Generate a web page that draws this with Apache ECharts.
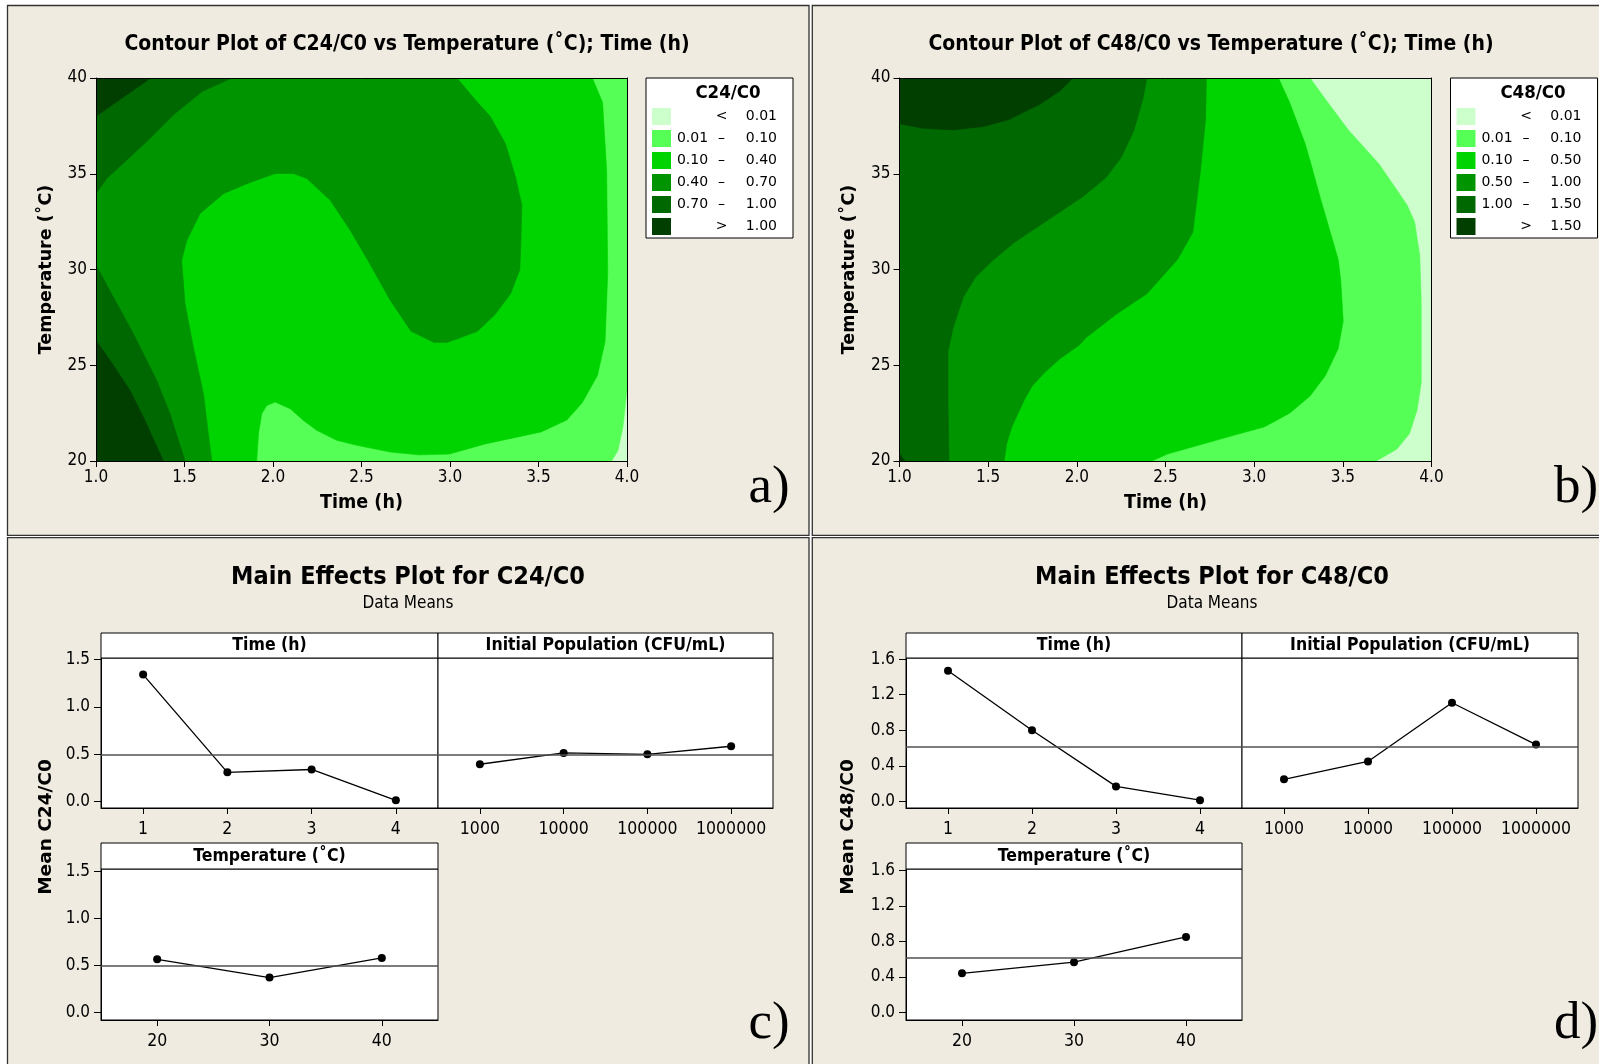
<!DOCTYPE html>
<html>
<head>
<meta charset="utf-8">
<title>Contour and main effects plots of C24/C0 and C48/C0</title>
<script src="https://cdn.jsdelivr.net/npm/echarts@6/dist/echarts.min.js"></script>
<style>
  html, body { margin: 0; padding: 0; background: #ffffff; }
  #chart { width: 1599px; height: 1064px; }
</style>
</head>
<body>
<div id="chart"></div>
<script>
// ---------------- data ----------------
// contour axes
const contourTimeTicks = [1.0, 1.5, 2.0, 2.5, 3.0, 3.5, 4.0];
const contourTempTicks = [20, 25, 30, 35, 40];

// contour legend classes (lightest to darkest)
const c24Classes = ['< 0.01', '0.01 – 0.10', '0.10 – 0.40', '0.40 – 0.70', '0.70 – 1.00', '> 1.00'];
const c48Classes = ['< 0.01', '0.01 – 0.10', '0.10 – 0.50', '0.50 – 1.00', '1.00 – 1.50', '> 1.50'];
const classColors = ['#ccffcc', '#55ff55', '#00d400', '#009400', '#006800', '#003f00'];

// C24/C0 regions, each one "value at or above the class floor", as [time, temperature] outlines
const c24Below001 = [[[1, 20], [4, 20], [4, 40], [1, 40]]];
const c24From001 = [[[1, 20], [3.913, 20], [3.948, 20.53], [3.977, 21.78], [4, 23.74], [4, 40], [1, 40]]];
const c24From010 = [[[1, 40], [3.804, 40], [3.862, 38.72], [3.885, 35.15], [3.891, 29.80], [3.876, 26.24],
  [3.833, 24.46], [3.746, 23.03], [3.660, 22.14], [3.515, 21.52], [3.198, 20.89], [2.996, 20.36],
  [2.823, 20.32], [2.662, 20.47], [2.474, 20.82], [2.360, 21.08], [2.247, 21.60], [2.172, 22.12],
  [2.097, 22.73], [2.012, 23.08], [1.965, 22.90], [1.936, 22.47], [1.918, 21.42], [1.908, 20], [1, 20]]];
const c24From040 = [[[1, 20], [1.654, 20], [1.607, 23.51], [1.550, 25.95], [1.503, 28.22], [1.484, 30.48],
  [1.513, 31.52], [1.588, 32.92], [1.720, 33.96], [1.852, 34.48], [2.012, 35.01], [2.116, 35.01],
  [2.191, 34.75], [2.323, 33.62], [2.436, 32.05], [2.530, 30.57], [2.662, 28.40], [2.780, 26.77],
  [2.910, 26.19], [2.982, 26.19], [3.054, 26.42], [3.155, 26.77], [3.256, 27.66], [3.342, 28.73],
  [3.394, 29.98], [3.400, 31.23], [3.406, 33.37], [3.371, 34.80], [3.313, 36.58], [3.227, 38.00],
  [3.140, 38.89], [3.039, 40], [1, 40]]];
const c24From070 = [
  [[1, 40], [1, 33.96], [1.060, 34.75], [1.173, 35.71], [1.30, 36.80], [1.44, 38.10], [1.60, 39.30], [1.767, 40]],
  [[1, 20], [1, 30.22], [1.098, 28.56], [1.211, 26.65], [1.343, 24.21], [1.418, 22.47], [1.503, 20]]
];
const c24From100 = [
  [[1, 40], [1, 38.0], [1.31, 40]],
  [[1, 20], [1, 26.30], [1.079, 25.26], [1.192, 23.69], [1.268, 22.29], [1.381, 20]]
];

// C48/C0 regions
const c48Below001 = [[[1, 20], [4, 20], [4, 40], [1, 40]]];
const c48From001 = [[[1, 40], [3.315, 40], [3.402, 38.89], [3.531, 37.29], [3.704, 35.51], [3.790, 34.35],
  [3.862, 33.37], [3.905, 32.48], [3.934, 30.70], [3.942, 28.38], [3.942, 26.24], [3.942, 24.10],
  [3.919, 22.67], [3.876, 21.43], [3.804, 20.62], [3.689, 20], [1, 20]]];
const c48From010 = [[[1, 40], [3.137, 40], [3.200, 38.72], [3.287, 36.58], [3.315, 35.69], [3.373, 33.73],
  [3.474, 30.52], [3.488, 29.45], [3.502, 27.31], [3.474, 25.88], [3.402, 24.46], [3.315, 23.39],
  [3.200, 22.50], [3.057, 21.78], [2.884, 21.34], [2.711, 20.89], [2.510, 20.36], [2.424, 20], [1, 20]]];
const c48From050 = [[[1, 40], [2.731, 40], [2.726, 37.83], [2.697, 35.15], [2.654, 31.94], [2.568, 30.52],
  [2.395, 28.73], [2.222, 27.66], [2.050, 26.42], [2.015, 26.06], [1.906, 25.35], [1.820, 24.63],
  [1.748, 23.92], [1.705, 23.21], [1.633, 21.78], [1.604, 20.89], [1.590, 20], [1, 20]]];
const c48From100 = [[[1, 40], [2.395, 40], [2.372, 38.89], [2.323, 37.29], [2.251, 35.86], [2.165, 34.80],
  [2.035, 33.81], [1.877, 32.83], [1.733, 31.94], [1.647, 31.41], [1.532, 30.52], [1.431, 29.63],
  [1.360, 28.56], [1.302, 26.95], [1.273, 25.70], [1.273, 23.57], [1.279, 20], [1, 20]]];
const c48From150 = [
  [[1, 40], [1, 37.61], [1.129, 37.38], [1.302, 37.29], [1.475, 37.47], [1.618, 37.83], [1.791, 38.63],
   [1.906, 39.34], [1.978, 40]],
  [[1, 20], [1, 20.4], [1.03, 20]]
];

// main effects: factor levels
const timeLevels = ['1', '2', '3', '4'];
const populationLevels = ['1000', '10000', '100000', '1000000'];
const temperatureLevels = ['20', '30', '40'];

// main effects: data means
const c24TimeMeans = [1.34, 0.31, 0.34, 0.015];
const c24PopulationMeans = [0.395, 0.515, 0.50, 0.585];
const c24TemperatureMeans = [0.565, 0.37, 0.58];
const c24GrandMean = 0.50;

const c48TimeMeans = [1.47, 0.80, 0.17, 0.015];
const c48PopulationMeans = [0.25, 0.45, 1.11, 0.64];
const c48TemperatureMeans = [0.44, 0.565, 0.85];
const c48GrandMean = 0.61;

// main effects: y tick labels
const c24MeanTicks = [0.0, 0.5, 1.0, 1.5];
const c48MeanTicks = [0.0, 0.4, 0.8, 1.2, 1.6];

// ---------------- styling ----------------
const FONT_COND = "'DejaVu Sans Condensed', 'DejaVu Sans', sans-serif";
const FONT_WIDE = "'DejaVu Sans', 'Verdana', sans-serif";
const FONT_SERIF = "'Liberation Serif', 'DejaVu Serif', serif";
const PANEL_FILL = '#efebe1';
const PANEL_EDGE = '#333333';

const option = {
  animation: false,
  backgroundColor: '#ffffff',
  grid: [], xAxis: [], yAxis: [], series: [], legend: [], graphic: []
};

function addText(x, y, text, opts) {
  option.graphic.push(Object.assign({
    type: 'text', x: x, y: y, z: 100, silent: true,
    style: Object.assign({
      text: text, fill: '#000',
      align: 'center', verticalAlign: 'middle',
      textAlign: 'center', textVerticalAlign: 'middle'
    }, opts.style)
  }, opts.el || {}));
}

// panel backgrounds
[[7.5, 5.5, 801.5, 529.8], [812.3, 5.5, 800, 529.8], [7.5, 537.7, 801.5, 540], [812.3, 537.7, 800, 540]].forEach(r => {
  option.graphic.push({
    type: 'rect', z: -100, silent: true,
    shape: { x: r[0], y: r[1], width: r[2], height: r[3] },
    style: { fill: PANEL_FILL, stroke: PANEL_EDGE, lineWidth: 1.3 }
  });
});

// ---------------- contour panels ----------------
function addContour(cfg) {
  const gi = option.grid.length;
  option.grid.push({ left: cfg.left, top: cfg.top, width: cfg.width, height: cfg.height });
  const tMin = contourTimeTicks[0], tMax = contourTimeTicks[contourTimeTicks.length - 1];
  const cMin = contourTempTicks[0], cMax = contourTempTicks[contourTempTicks.length - 1];
  const xi = option.xAxis.length;
  option.xAxis.push({
    gridIndex: gi, type: 'value', min: tMin, max: tMax, interval: contourTimeTicks[1] - contourTimeTicks[0],
    position: 'bottom', z: 10,
    name: 'Time (h)', nameLocation: 'middle', nameGap: 32,
    nameTextStyle: { fontFamily: FONT_COND, fontWeight: 'bold', fontSize: 19.5, color: '#000' },
    axisLine: { show: true, onZero: false, lineStyle: { color: '#000', width: 1 } },
    axisTick: { show: true, length: 6, lineStyle: { color: '#000' } },
    axisLabel: { formatter: v => v.toFixed(1), fontFamily: FONT_COND, fontSize: 17, color: '#000', margin: 8 },
    splitLine: { show: false }
  });
  option.xAxis.push({
    gridIndex: gi, type: 'value', min: tMin, max: tMax, position: 'top', z: 10,
    axisLine: { show: true, onZero: false, lineStyle: { color: '#000', width: 1 } },
    axisTick: { show: false }, axisLabel: { show: false }, splitLine: { show: false }
  });
  const yi = option.yAxis.length;
  option.yAxis.push({
    gridIndex: gi, type: 'value', min: cMin, max: cMax, interval: contourTempTicks[1] - contourTempTicks[0],
    position: 'left', z: 10,
    name: 'Temperature (˚C)', nameLocation: 'middle', nameGap: 41,
    nameTextStyle: { fontFamily: FONT_WIDE, fontWeight: 'bold', fontSize: 17.5, color: '#000' },
    axisLine: { show: true, onZero: false, lineStyle: { color: '#000', width: 1 } },
    axisTick: { show: true, length: 6, lineStyle: { color: '#000' } },
    axisLabel: { fontFamily: FONT_COND, fontSize: 17, color: '#000', margin: 9 },
    splitLine: { show: false }
  });
  option.yAxis.push({
    gridIndex: gi, type: 'value', min: cMin, max: cMax, position: 'right', z: 10,
    axisLine: { show: true, onZero: false, lineStyle: { color: '#000', width: 1 } },
    axisTick: { show: false }, axisLabel: { show: false }, splitLine: { show: false }
  });

  const names = cfg.classes.map(c => cfg.prefix + ' ' + c);
  cfg.regions.forEach((polys, k) => {
    const color = classColors[k];
    option.series.push({
      type: 'custom', name: names[k],
      xAxisIndex: xi, yAxisIndex: yi, coordinateSystem: 'cartesian2d',
      clip: true, silent: true,
      itemStyle: { color: color },
      data: polys.map(p => p[0]),
      renderItem: (params, api) => ({
        type: 'polygon',
        shape: { points: polys[params.dataIndex].map(p => api.coord(p)) },
        style: { fill: color, stroke: color, lineWidth: 0.6 }
      })
    });
  });

  option.legend.push({
    left: cfg.legendLeft, top: cfg.top, orient: 'vertical', icon: 'rect',
    itemWidth: 19, itemHeight: 17, itemGap: 5, itemTextGap: 10,
    padding: [30, 16, 3, 6],
    backgroundColor: '#ffffff', borderColor: '#000', borderWidth: 1, borderRadius: 0,
    selectedMode: false,
    data: names,
    formatter: name => {
      const parts = name.slice(cfg.prefix.length + 1).split(' ');
      return parts.length === 2 ? '{lo| }{mid|' + parts[0] + '}{hi|' + parts[1] + '}'
                                : '{lo|' + parts[0] + '}{mid|' + parts[1] + '}{hi|' + parts[2] + '}';
    },
    textStyle: {
      fontFamily: FONT_WIDE, fontSize: 14, color: '#000',
      rich: {
        lo: { width: 33, align: 'right', fontFamily: FONT_WIDE, fontSize: 14 },
        mid: { width: 25, align: 'center', fontFamily: FONT_WIDE, fontSize: 14 },
        hi: { width: 43, align: 'right', fontFamily: FONT_WIDE, fontSize: 14 }
      }
    }
  });
  addText(cfg.legendTitleX, cfg.top + 15, cfg.prefix, {
    style: { fontFamily: FONT_COND, fontWeight: 'bold', fontSize: 18.5 }
  });
  addText(cfg.titleX, 45, cfg.title, {
    style: { fontFamily: FONT_COND, fontWeight: 'bold', fontSize: 21 }
  });
}

addContour({
  left: 96, top: 78, width: 531, height: 383,
  title: 'Contour Plot of C24/C0 vs Temperature (˚C); Time (h)', titleX: 407,
  prefix: 'C24/C0', classes: c24Classes,
  regions: [c24Below001, c24From001, c24From010, c24From040, c24From070, c24From100],
  legendLeft: 646, legendTitleX: 728
});
addContour({
  left: 899.5, top: 78, width: 532, height: 383,
  title: 'Contour Plot of C48/C0 vs Temperature (˚C); Time (h)', titleX: 1211,
  prefix: 'C48/C0', classes: c48Classes,
  regions: [c48Below001, c48From001, c48From010, c48From050, c48From100, c48From150],
  legendLeft: 1450.5, legendTitleX: 1533
});

// ---------------- main effects panels ----------------
function addEffect(cfg) {
  const gi = option.grid.length;
  option.grid.push({
    left: cfg.left, top: cfg.top, width: cfg.width, height: cfg.height,
    show: true, backgroundColor: '#ffffff', borderColor: '#000', borderWidth: 1
  });
  const xi = option.xAxis.length;
  option.xAxis.push({
    gridIndex: gi, type: 'category', data: cfg.levels, boundaryGap: true,
    axisLine: { show: true, onZero: false, lineStyle: { color: '#000', width: 1 } },
    axisTick: { show: true, alignWithLabel: true, length: 6, lineStyle: { color: '#000' } },
    axisLabel: { interval: 0, fontFamily: FONT_COND, fontSize: 17.5, color: '#000', margin: 12 },
    splitLine: { show: false }
  });
  const yi = option.yAxis.length;
  option.yAxis.push({
    gridIndex: gi, type: 'value', min: cfg.yMin, max: cfg.yMax,
    axisLine: { show: cfg.showY, onZero: false, lineStyle: { color: '#000', width: 1 } },
    axisTick: { show: cfg.showY, length: 7, customValues: cfg.ticks, lineStyle: { color: '#000' } },
    axisLabel: { show: cfg.showY, customValues: cfg.ticks, formatter: v => v.toFixed(1),
                 fontFamily: FONT_COND, fontSize: 17, color: '#000', margin: 11 },
    splitLine: { show: false }
  });
  option.series.push({
    type: 'line', xAxisIndex: xi, yAxisIndex: yi, data: cfg.values, z: 4,
    symbol: 'circle', symbolSize: 8,
    itemStyle: { color: '#000' }, lineStyle: { color: '#000', width: 1.3 },
    markLine: {
      silent: true, symbol: ['none', 'none'], label: { show: false },
      lineStyle: { color: '#505050', type: 'solid', width: 1.5 },
      data: [{ yAxis: cfg.mean }]
    }
  });
  // factor header strip
  option.graphic.push({
    type: 'rect', z: 5, silent: true,
    shape: { x: cfg.left, y: cfg.top - cfg.header, width: cfg.width, height: cfg.header },
    style: { fill: '#ffffff', stroke: '#000', lineWidth: 1 }
  });
  addText(cfg.left + cfg.width / 2, cfg.top - cfg.header / 2, cfg.factor, {
    style: { fontFamily: FONT_COND, fontWeight: 'bold', fontSize: 17.5 }
  });
}

function addEffectsPanel(p) {
  addEffect({ left: p.x0, top: 658, width: p.w1, height: 150, header: 25, levels: timeLevels,
    values: p.time, mean: p.mean, yMin: p.top[0], yMax: p.top[1], ticks: p.ticks, showY: true, factor: 'Time (h)' });
  addEffect({ left: p.x0 + p.w1, top: 658, width: p.w2, height: 150, header: 25, levels: populationLevels,
    values: p.pop, mean: p.mean, yMin: p.top[0], yMax: p.top[1], ticks: p.ticks, showY: false,
    factor: 'Initial Population (CFU/mL)' });
  addEffect({ left: p.x0, top: 869, width: p.w1, height: 151, header: 26, levels: temperatureLevels,
    values: p.temp, mean: p.mean, yMin: p.bottom[0], yMax: p.bottom[1], ticks: p.ticks, showY: true,
    factor: 'Temperature (˚C)' });
  addText(p.cx, 577, 'Main Effects Plot for ' + p.response, {
    style: { fontFamily: FONT_COND, fontWeight: 'bold', fontSize: 25 }
  });
  addText(p.cx, 604, 'Data Means', { style: { fontFamily: FONT_COND, fontSize: 17 } });
  addText(p.yTitleX, 827, 'Mean ' + p.response, {
    style: { fontFamily: FONT_WIDE, fontWeight: 'bold', fontSize: 18.5 },
    el: { rotation: Math.PI / 2 }
  });
}

addEffectsPanel({
  response: 'C24/C0', x0: 101, w1: 337, w2: 335, cx: 408, yTitleX: 46,
  time: c24TimeMeans, pop: c24PopulationMeans, temp: c24TemperatureMeans, mean: c24GrandMean,
  ticks: c24MeanTicks, top: [-0.066, 1.515], bottom: [-0.081, 1.526]
});
addEffectsPanel({
  response: 'C48/C0', x0: 906, w1: 336, w2: 336, cx: 1212, yTitleX: 848.5,
  time: c48TimeMeans, pop: c48PopulationMeans, temp: c48TemperatureMeans, mean: c48GrandMean,
  ticks: c48MeanTicks, top: [-0.073, 1.613], bottom: [-0.086, 1.615]
});

// panel letters
[['a)', 769, 488], ['b)', 1576, 488], ['c)', 769, 1024], ['d)', 1576, 1024]].forEach(l => {
  addText(l[1], l[2], l[0], { style: { fontFamily: FONT_SERIF, fontSize: 53 } });
});

const chart = echarts.init(document.getElementById('chart'), null, { renderer: 'canvas' });
chart.setOption(option);
</script>
</body>
</html>
